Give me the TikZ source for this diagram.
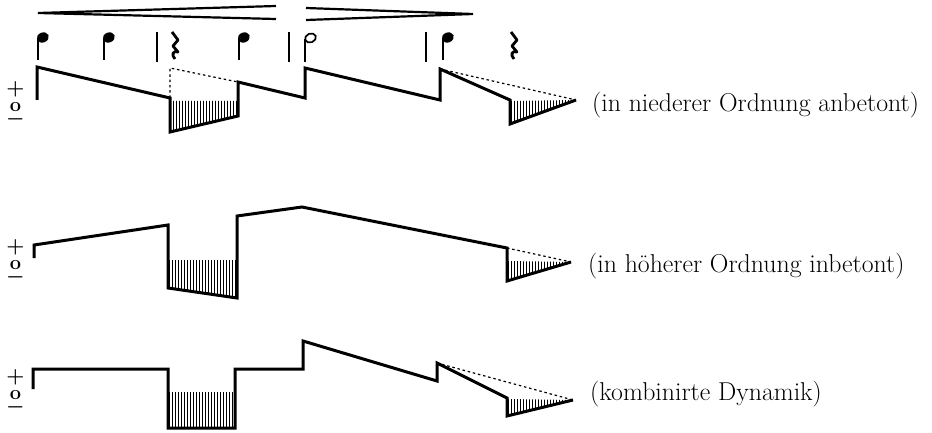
\documentclass[tikz,border=0pt]{standalone}
\usepackage{fontspec}
\usepackage{tikz}
\usetikzlibrary{calc}

% vertical hatching inside a closed outline
\newcommand{\hatcharea}[4]{%
  \begin{scope}
    \clip #1;
    \foreach \hx in {#2,#3,...,#4} \draw[hatch] (\hx,0) -- (\hx,433);
  \end{scope}}

\begin{document}
\begin{tikzpicture}[x=1pt, y=-1pt,
  dyn/.style={line width=3pt, line join=miter},
  guide/.style={line width=1.2pt, dash pattern=on 2.5pt off 2.8pt},
  hatch/.style={line width=1pt},
  pin/.style={line width=2.2pt},
  stem/.style={line width=1.7pt},
  barline/.style={line width=2.3pt},
  label/.style={anchor=west, inner sep=0pt, font=\fontsize{25.8}{30}\selectfont},
  sign/.style={inner sep=0pt, align=center, anchor=north,
    font=\fontsize{20}{13}\selectfont\bfseries\boldmath}]
  \useasboundingbox (0,0) rectangle (932,433);

  % Hairpins
  \coordinate (cresc) at (38,13);
  \coordinate (decresc) at (473,14);
  \draw[pin] (276,6) -- (cresc) -- (276,19);
  \draw[pin] (306,8) -- (decresc) -- (306,20);

  % Notes, rests and bar lines
  \foreach \nx in {37,103,238,442} {
    \fill[rotate around={22:(\nx+5.8,37.5)}] (\nx+5.8,37.5) ellipse (6.2 and 5);
    \draw[stem] (\nx+0.8,38) -- (\nx+0.8,60);
  }
  \draw[stem, rotate around={22:(310.5,38)}] (310.5,38) ellipse (5.6 and 4.4);
  \draw[stem] (305,39) -- (305,62);
  \foreach \rx in {172,511} {
    \draw[line width=2.8pt, line join=round]
      (\rx,32) -- (\rx+6,40) -- (\rx+1,46) -- (\rx+6,52)
      .. controls (\rx+1,50) and (\rx-1,55) .. (\rx+3,59);
  }
  \foreach \bx in {157,289,426} \draw[barline] (\bx,32) -- (\bx,62);

  % Signs + o -
  \foreach \n/\y in {1/100, 2/258, 3/388}
    \node[sign] (sign\n) at (15.5,\y-19) {$+$\\[4pt]o\\[-1pt]$-$};

  % Hatched parts
  \hatcharea{(169,101) -- (238,101) -- (238,116) -- (169,132) -- cycle}{170}{173}{238}
  \hatcharea{(510,101) -- (576,100) -- (510,124) -- cycle}{511}{514}{576}
  \hatcharea{(168,260) -- (237,260) -- (237,298) -- (168,288) -- cycle}{169}{172}{237}
  \hatcharea{(507,261) -- (571,262) -- (507,281) -- cycle}{508}{511}{571}
  \hatcharea{(168,392) -- (235,392) -- (235,428) -- (168,428) -- cycle}{169}{172}{235}
  \hatcharea{(507,399) -- (573,400) -- (507,416) -- cycle}{508}{511}{573}

  % Curve 1
  \draw[dyn] (37,100) -- (37,67) -- (170,98) -- (170,132) -- (238,116) -- (238,82)
    -- (305,98) -- (305,68) -- (440,100) -- (440,69) -- (510,100) -- (510,124) -- (576,100);
  \draw[guide] (170,98) -- (170,68) -- (238,82);
  \draw[guide] (440,69) -- (576,100);

  % Curve 2
  \draw[dyn] (34,258) -- (34,245) -- (168,225) -- (168,288) -- (237,298) -- (237,216)
    -- (302,207) -- (507,248) -- (507,281) -- (571,262);
  \draw[guide] (507,248) -- (571,262);

  % Curve 3
  \draw[dyn] (33,389) -- (33,369) -- (168,369) -- (168,428) -- (235,428) -- (235,369)
    -- (303,369) -- (303,341) -- (437,381) -- (437,363) -- (507,398) -- (507,416) -- (573,400);
  \draw[guide] (437,363) -- (573,400);

  % Labels
  \node[label] (lab1) at (592,105) {(in niederer Ordnung anbetont)};
  \node[label] (lab2) at (588,266) {(in höherer Ordnung inbetont)};
  \node[label] (lab3) at (590,394) {(kombinirte Dynamik)};
\end{tikzpicture}
\end{document}
